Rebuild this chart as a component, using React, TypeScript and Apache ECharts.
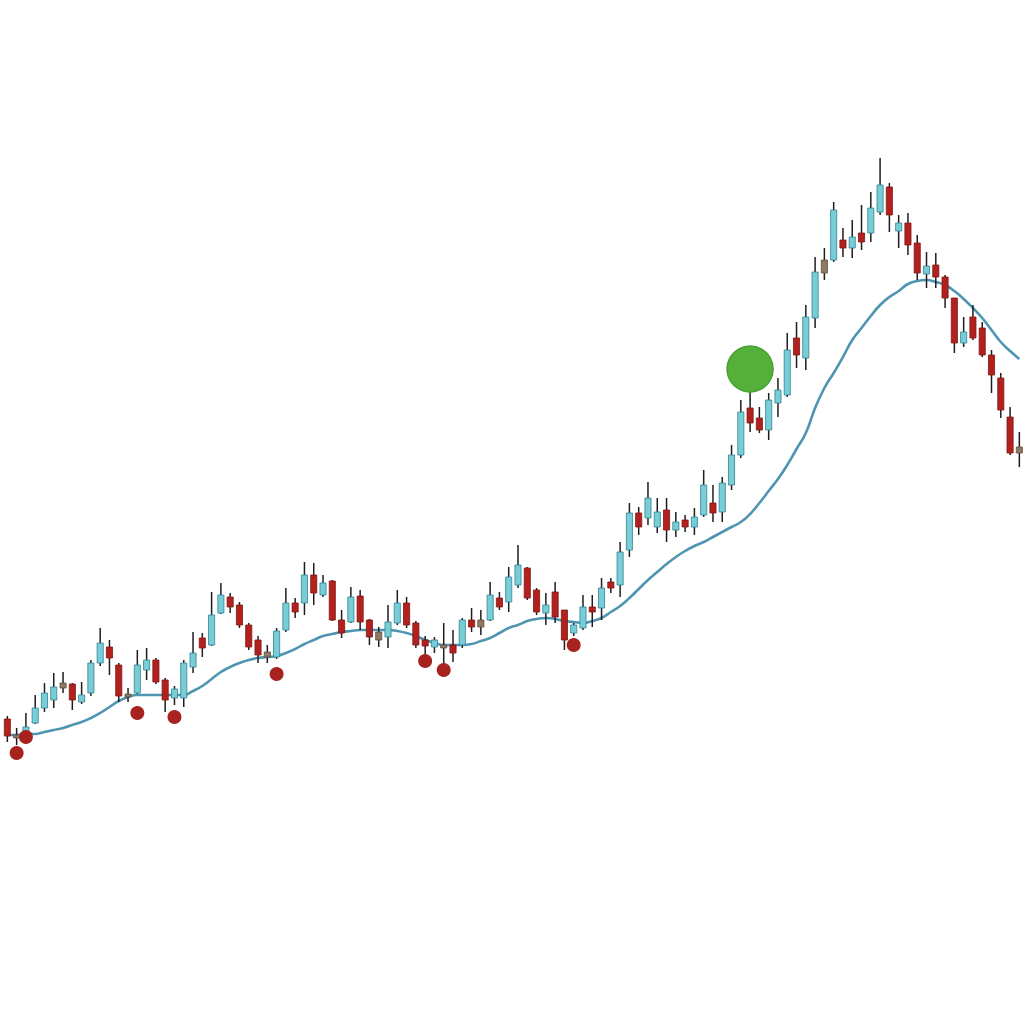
import React, { useEffect, useRef } from "react";
import * as echarts from "echarts";

// Price values (arbitrary units)
const opens = [
  305, 289, 289, 301, 316, 324, 341, 340, 322, 331, 361, 377, 359, 330, 331, 354, 364, 344, 326, 326,
  357, 386, 379, 411, 427, 419, 399, 384, 372, 367, 394, 421, 421, 449, 429, 443, 404, 402, 428, 404,
  392, 387, 401, 421, 401, 384, 377, 379, 379, 379, 404, 404, 404, 426, 422, 439, 456, 434, 411, 432,
  414, 391, 396, 417, 416, 442, 439, 474, 511, 506, 497, 514, 494, 504, 497, 509, 521, 512, 539, 569,
  616, 606, 594, 621, 629, 686, 666, 706, 764, 764, 784, 776, 791, 791, 812, 837, 793, 801, 781, 750,
  759, 747, 726, 681, 707, 696, 669, 646, 607, 577,
];
const closes = [
  288, 286, 297, 316, 331, 337, 336, 324, 329, 361, 381, 366, 328, 327, 359, 364, 342, 324, 335, 361,
  371, 376, 409, 429, 417, 399, 377, 369, 367, 393, 421, 412, 449, 431, 441, 404, 391, 427, 402, 387,
  384, 402, 421, 399, 379, 378, 384, 376, 371, 404, 397, 397, 429, 417, 447, 459, 426, 412, 419, 407,
  384, 399, 417, 412, 436, 436, 472, 511, 497, 526, 512, 494, 502, 497, 507, 539, 511, 541, 569, 612,
  601, 594, 624, 634, 674, 669, 707, 752, 751, 814, 776, 787, 782, 816, 839, 809, 801, 779, 751, 758,
  747, 726, 681, 692, 686, 669, 649, 614, 571, 571,
];
const lows = [
  282, 279, 287, 300, 312, 316, 331, 314, 320, 328, 358, 349, 322, 322, 330, 344, 340, 312, 319, 317,
  351, 367, 378, 410, 411, 396, 374, 361, 361, 365, 392, 406, 409, 419, 427, 403, 386, 401, 394, 379,
  377, 376, 399, 396, 376, 364, 371, 356, 362, 376, 392, 389, 403, 414, 412, 436, 424, 409, 399, 401,
  374, 388, 394, 397, 404, 431, 427, 467, 489, 499, 491, 482, 487, 492, 489, 507, 502, 502, 534, 566,
  592, 591, 584, 607, 627, 656, 654, 696, 744, 762, 767, 766, 774, 782, 809, 792, 776, 769, 744, 736,
  736, 716, 671, 677, 684, 667, 631, 606, 569, 557,
];
const highs = [
  308, 296, 311, 329, 341, 351, 352, 341, 342, 364, 396, 384, 361, 336, 374, 376, 366, 346, 338, 364,
  392, 391, 432, 441, 431, 422, 401, 388, 379, 396, 436, 426, 462, 461, 449, 444, 414, 437, 434, 405,
  397, 419, 434, 427, 403, 388, 387, 401, 394, 406, 416, 414, 442, 432, 457, 479, 457, 436, 431, 442,
  414, 401, 429, 429, 446, 446, 482, 521, 517, 542, 526, 526, 512, 509, 516, 554, 539, 547, 579, 624,
  632, 617, 631, 646, 691, 702, 719, 767, 776, 822, 796, 804, 819, 832, 866, 841, 809, 811, 789, 772,
  771, 749, 726, 707, 719, 702, 674, 651, 617, 592,
];
// candles whose small bodies are drawn in a neutral (grey-brown) tone
const neutralCandles = [1, 6, 13, 28, 40, 47, 51, 88, 109];

// moving average line
const maValues = [
  289, 289, 290, 290, 292, 294, 296, 299, 302, 306, 311, 317, 323, 327, 329, 329, 329, 329, 329, 329,
  333, 338, 345, 352, 357, 361, 364, 366, 367, 368, 371, 375, 380, 384, 388, 390, 392, 393, 394, 394,
  394, 394, 393, 391, 388, 384, 381, 379, 379, 379, 380, 383, 386, 391, 396, 399, 403, 405, 406, 405,
  403, 402, 401, 403, 406, 412, 418, 426, 435, 444, 452, 460, 467, 473, 478, 482, 487, 492, 497, 502,
  510, 521, 533, 545, 559, 575, 591, 616, 636, 651, 667, 684, 696, 708, 719, 727, 733, 740, 743, 744,
  742, 739, 733, 725, 716, 706, 694, 682, 673, 665,
];

// red signal dots (candle index, value)
const dotIndex = [1, 2, 14, 18, 29, 45, 47, 61];
const dotValues = [271, 287, 311, 307, 350, 363, 354, 379];

// green marker
const markerIndex = [80];
const markerValues = [655];

const categories = opens.map((_, i) => String(i + 1));

export default function App() {
  const ref = useRef<HTMLDivElement>(null);
  useEffect(() => {
    const chart = echarts.init(ref.current!, null, { renderer: "svg" });
    const candleData = opens.map((o, i) => [i, o, closes[i], lows[i], highs[i]]);
    chart.setOption({
      animation: false,
      backgroundColor: "#ffffff",
      grid: { left: 2.7, top: 0, width: 1025, height: 1024 },
      xAxis: {
        type: "category",
        data: categories,
        show: false,
        boundaryGap: true,
      },
      yAxis: { type: "value", min: 0, max: 1024, show: false },
      series: [
        {
          type: "line",
          data: maValues,
          smooth: true,
          symbol: "none",
          z: 1,
          lineStyle: { color: "#4f95b2", width: 2.6 },
        },
        {
          type: "custom",
          z: 2,
          data: candleData,
          encode: { x: 0, y: [1, 2, 3, 4] },
          renderItem: (params: any, api: any) => {
            const idx = api.value(0);
            const o = api.value(1);
            const c = api.value(2);
            const l = api.value(3);
            const h = api.value(4);
            const pO = api.coord([idx, o]);
            const pC = api.coord([idx, c]);
            const pL = api.coord([idx, l]);
            const pH = api.coord([idx, h]);
            const w = api.size([1, 0])[0] * 0.66;
            const cx = pO[0];
            const top = Math.min(pO[1], pC[1]);
            const bh = Math.max(Math.abs(pO[1] - pC[1]), 2);
            let fill = c >= o ? "#79cdd6" : "#b3211e";
            let stroke = c >= o ? "#2f8492" : "#7e1613";
            if (neutralCandles.indexOf(params.dataIndex) >= 0) {
              fill = "#8f7a64";
              stroke = "#5e4c3c";
            }
            return {
              type: "group",
              children: [
                {
                  type: "line",
                  shape: { x1: cx, y1: pH[1], x2: cx, y2: pL[1] },
                  style: { stroke: "#1e1e1e", lineWidth: 1.5 },
                },
                {
                  type: "rect",
                  shape: { x: cx - w / 2, y: top, width: w, height: bh },
                  style: { fill, stroke, lineWidth: 0.8 },
                },
              ],
            };
          },
        },
        {
          type: "scatter",
          z: 3,
          data: dotIndex.map((d, i) => [d, dotValues[i]]),
          symbol: "circle",
          symbolSize: 14,
          itemStyle: { color: "#a82320", opacity: 1 },
        },
        {
          type: "scatter",
          z: 3,
          data: markerIndex.map((d, i) => [d, markerValues[i]]),
          symbol: "circle",
          symbolSize: 46,
          itemStyle: { color: "#55b03a", borderColor: "#45a030", borderWidth: 1.5, opacity: 1 },
        },
      ],
    });
    return () => chart.dispose();
  }, []);
  return (
    <div
      ref={ref}
      style={{ position: "fixed", left: 0, top: 0, width: 1024, height: 1024, background: "#ffffff" }}
    />
  );
}
